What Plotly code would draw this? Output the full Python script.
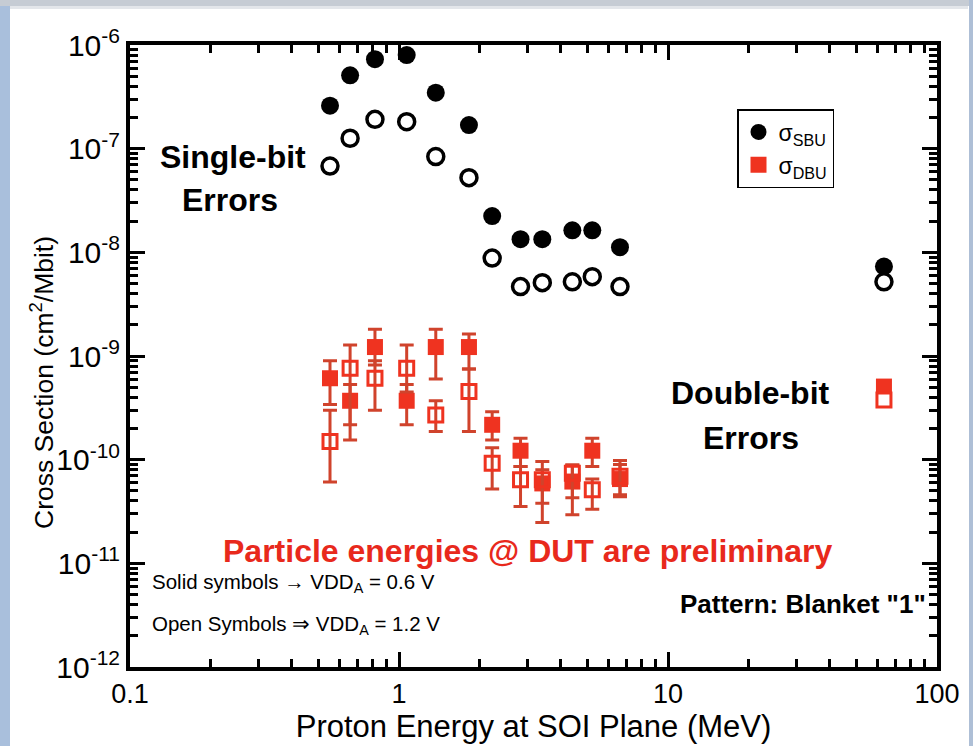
import plotly.graph_objects as go

# Proton energy at the SOI plane (MeV)
energy = [0.554, 0.658, 0.814, 1.068, 1.37, 1.82, 2.22, 2.83, 3.41, 4.41, 5.23, 6.63, 63.5]

# Single-bit upset cross sections (cm^2/Mbit)
sbu_solid = [2.6e-7, 5.1e-7, 7.3e-7, 8.0e-7, 3.47e-7, 1.69e-7, 2.24e-8, 1.34e-8, 1.34e-8,
             1.63e-8, 1.63e-8, 1.12e-8, 7.3e-9]
sbu_open = [6.8e-8, 1.26e-7, 1.92e-7, 1.82e-7, 8.4e-8, 5.25e-8, 8.8e-9, 4.67e-9, 5.1e-9,
            5.2e-9, 5.83e-9, 4.67e-9, 5.2e-9]

# Double-bit upset cross sections with upper / lower error limits
dbu_solid = [6.1e-10, 3.7e-10, 1.22e-9, 3.7e-10, 1.22e-9, 1.22e-9, 2.17e-10, 1.22e-10, 5.9e-11,
             6.15e-11, 1.22e-10, 6.5e-11, 5.07e-10]
dbu_solid_hi = [9.0e-10, 5.3e-10, 1.81e-9, 5.3e-10, 1.81e-9, 1.63e-9, 2.9e-10, 1.61e-10, 9.6e-11,
                8.9e-11, 1.61e-10, 9.8e-11, 5.07e-10]
dbu_solid_lo = [3.4e-10, 1.55e-10, 8.2e-10, 2.17e-10, 6.0e-10, 7.5e-10, 1.55e-10, 8.6e-11, 2.47e-11,
                2.94e-11, 8.6e-11, 4.4e-11, 5.07e-10]

dbu_open = [1.5e-10, 7.6e-10, 6.1e-10, 7.6e-10, 2.7e-10, 4.54e-10, 9.25e-11, 6.4e-11, 6.4e-11,
            7.4e-11, 5.12e-11, 6.9e-11, 3.77e-10]
dbu_open_hi = [3.0e-10, 1.28e-9, 9.0e-10, 1.28e-9, 3.7e-10, 7.5e-10, 1.3e-10, 8.6e-11, 8.0e-11,
               8.9e-11, 6.5e-11, 9.0e-11, 3.77e-10]
dbu_open_lo = [6.1e-11, 2.17e-10, 3.0e-10, 4.5e-10, 1.87e-10, 1.87e-10, 5.2e-11, 3.53e-11, 3.8e-11,
               4.28e-11, 3.33e-11, 4.6e-11, 3.77e-10]

x_ticks = [0.1, 1, 10, 100]
x_ticktext = ["0.1", "1", "10", "100"]
y_ticks = [1e-12, 1e-11, 1e-10, 1e-9, 1e-8, 1e-7, 1e-6]
y_ticktext = ["10<sup>-12</sup>", "10<sup>-11</sup>", "10<sup>-10</sup>", "10<sup>-9</sup>",
              "10<sup>-8</sup>", "10<sup>-7</sup>", "10<sup>-6</sup>"]

RED = "#ef3320"
ERR = "#d0432c"
FONT = "Liberation Sans, Arial, sans-serif"

W, H = 973, 746
L, R, T, B = 130, 36, 45, 79
PW, PH = W - L - R, H - T - B
X_RANGE = [-1, 2]
Y_RANGE = [-12, -6]


def px(x):
    return (x - L) / PW


def py(y):
    return (H - B - y) / PH


def err(vals, hi, lo):
    return dict(type="data", symmetric=False,
                array=[h - v for v, h in zip(vals, hi)],
                arrayminus=[v - l for v, l in zip(vals, lo)],
                color=ERR, thickness=3, width=7)


fig = go.Figure()

# Solid symbols on the main axes
fig.add_trace(go.Scatter(
    x=energy, y=sbu_solid, mode="markers", name="σ<sub>SBU</sub>",
    marker=dict(symbol="circle", size=18, color="black"),
))
fig.add_trace(go.Scatter(
    x=energy, y=dbu_solid, mode="markers", name="σ<sub>DBU</sub>",
    error_y=err(dbu_solid, dbu_solid_hi, dbu_solid_lo),
    marker=dict(symbol="square", size=16, color=RED),
))
# Open symbols on the overlaid axes (same scales), drawn on top
fig.add_trace(go.Scatter(
    x=energy, y=sbu_open, mode="markers", showlegend=False, xaxis="x2", yaxis="y2",
    marker=dict(symbol="circle", size=16, color="white", line=dict(color="black", width=3.5)),
))
open_fill = ["rgba(0,0,0,0)"] * (len(energy) - 1) + ["white"]
fig.add_trace(go.Scatter(
    x=energy, y=dbu_open, mode="markers", showlegend=False, xaxis="x2", yaxis="y2",
    error_y=err(dbu_open, dbu_open_hi, dbu_open_lo),
    marker=dict(symbol="square", size=14, color=open_fill, line=dict(color=RED, width=3)),
))

minor_x = [k * 10.0 ** d for d in (-1, 0, 1) for k in range(2, 10)]
minor_y = [k * 10.0 ** d for d in range(-12, -6) for k in range(2, 10)]

frame_axis = dict(
    showline=True, linewidth=4, linecolor="black", mirror="allticks",
    ticks="inside", tickwidth=3, tickcolor="black",
    showgrid=False, zeroline=False,
)

fig.update_layout(
    xaxis=dict(
        type="log", range=X_RANGE, tickmode="array", tickvals=x_ticks, ticktext=x_ticktext,
        ticklen=15, tickfont=dict(family=FONT, size=27, color="black"),
        title=dict(text="Proton Energy at SOI Plane (MeV)",
                   font=dict(family=FONT, size=31, color="black"), standoff=4),
        **frame_axis,
    ),
    yaxis=dict(
        type="log", range=Y_RANGE, tickmode="array", tickvals=y_ticks, ticktext=y_ticktext,
        ticklen=15, tickfont=dict(family=FONT, size=30, color="black"),
        **frame_axis,
    ),
    # minor tick axes overlaid on the main ones
    xaxis2=dict(
        type="log", range=X_RANGE, overlaying="x", side="bottom", anchor="y2",
        tickmode="array", tickvals=minor_x, ticklen=8, showticklabels=False,
        **frame_axis,
    ),
    yaxis2=dict(
        type="log", range=Y_RANGE, overlaying="y", side="left", anchor="x2",
        tickmode="array", tickvals=minor_y, ticklen=8, showticklabels=False,
        **frame_axis,
    ),
)

annotations = [
    dict(x=px(42), y=py(383), text="Cross Section (cm<sup>2</sup>/Mbit)", textangle=-90,
         font=dict(family=FONT, size=26.5, color="black")),
    dict(x=px(233), y=py(157), text="<b>Single-bit</b>", font=dict(family=FONT, size=32, color="black")),
    dict(x=px(230), y=py(200), text="<b>Errors</b>", font=dict(family=FONT, size=32, color="black")),
    dict(x=px(750), y=py(393), text="<b>Double-bit</b>", font=dict(family=FONT, size=32, color="black")),
    dict(x=px(751), y=py(438), text="<b>Errors</b>", font=dict(family=FONT, size=32, color="black")),
    dict(x=px(527), y=py(551), text="<b>Particle energies @ DUT are preliminary</b>",
         font=dict(family=FONT, size=32, color="#e8291c")),
    dict(x=px(928), y=py(604), xanchor="right", text="<b>Pattern: Blanket \"1\"</b>",
         font=dict(family=FONT, size=26, color="black")),
    dict(x=px(150), y=py(583), xanchor="left", text="Solid symbols → VDD<sub>A</sub> = 0.6 V",
         font=dict(family=FONT, size=20.5, color="black")),
    dict(x=px(150), y=py(625), xanchor="left", text="Open Symbols ⇒ VDD<sub>A</sub> = 1.2 V",
         font=dict(family=FONT, size=20.5, color="black")),
]
for a in annotations:
    a.update(xref="paper", yref="paper", showarrow=False)
    a.setdefault("xanchor", "center")
    a.setdefault("yanchor", "middle")

# Slide frame around the white page
frame = [
    (0, 0, 10, H, "#a9bfdc"),
    (0, 0, W, 6, "#c6ccd4"),
    (10, 6, W - 5, 9, "#e3e6ea"),
    (W - 4, 0, W, H, "#aebfd6"),
]
shapes = [
    dict(type="rect", xref="paper", yref="paper", x0=px(x0), x1=px(x1), y0=py(y1), y1=py(y0),
         fillcolor=c, line=dict(width=0), layer="below")
    for x0, y0, x1, y1, c in frame
]

fig.update_layout(
    width=W, height=H,
    margin=dict(l=L, r=R, t=T, b=B, autoexpand=False),
    paper_bgcolor="white", plot_bgcolor="white",
    annotations=annotations, shapes=shapes,
    legend=dict(x=px(737), y=py(109), xanchor="left", yanchor="top",
                bordercolor="black", borderwidth=1.5, bgcolor="white",
                font=dict(family=FONT, size=23, color="black"),
                itemsizing="trace", tracegroupgap=4),
    showlegend=True,
)

fig.write_html("out.html")
